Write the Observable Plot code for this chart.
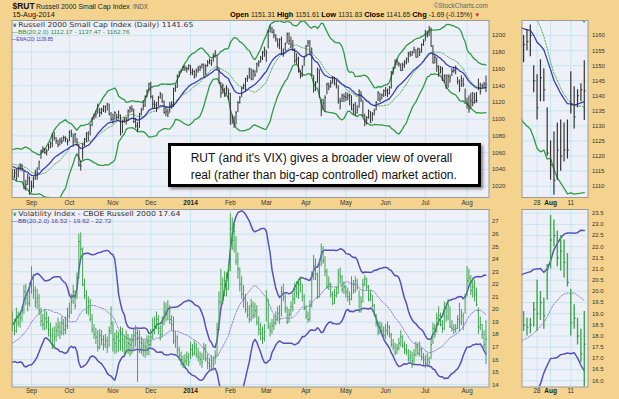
<!DOCTYPE html>
<html><head><meta charset="utf-8">
<script src="https://cdn.jsdelivr.net/npm/d3@7"></script>
<script src="https://cdn.jsdelivr.net/npm/@observablehq/plot@0.6"></script>
<style>
body{margin:0;background:#fff;}
#chart{position:relative;width:619px;height:399px;background:#f4d38f;overflow:hidden;}
#chart svg{position:absolute;left:0;top:0;}
</style></head><body><div id="chart"></div>
<script>
// ---------- DATA (trading days 19-Aug-2013 .. 15-Aug-2014) ----------
const monthLabels = ["Sep","Oct","Nov","Dec","2014","Feb","Mar","Apr","May","Jun","Jul","Aug"];
const tradingDaysPerMonth = [10,20,23,20,21,21,19,21,21,21,21,22,11]; // Aug-2013 .. Aug-2014
const zoomTickLabels = ["28","Aug","11"];
const zoomTickIdx = [236,240,246];
const zoomStart = 232;

const rutWarm = [1038,1042,1040,1046,1050,1045,1047,1044,1055,1060,1058,1050,1044,1050,1054,1056,1053,1046,1030,1028];
const rutClose = [
1031,1036,1029,1040,1044,1040,1017,1022,1030,1011,
1020,1029,1036,1036,1049,1062,1065,1060,1062,1066,1071,1080,1078,1074,1070,1074,1073,1078,1077,1073,
1085,1083,1073,1082,1070,1045,1044,1070,1076,1083,1075,1093,1100,1104,1106,1116,1108,1111,1115,1110,1118,1106,1100,
1100,1108,1102,1104,1082,1098,1101,1099,1110,1113,1112,1097,1092,1088,1106,1111,1116,1127,1133,1142,
1127,1118,1117,1113,1126,1130,1121,1108,1109,1107,1116,1118,1136,1138,1151,1155,1158,1162,1161,1160,1164,
1156,1157,1150,1158,1160,1162,1165,1151,1164,1168,1170,1167,1175,1179,1162,1143,1131,1140,1128,1137,1131,
1094,1102,1093,1108,1120,1126,1137,1140,1148,1149,1160,1148,1157,1153,1166,1168,1173,1180,1183,
1179,1205,1208,1204,1200,1196,1189,1195,1178,1180,1190,1202,1194,1190,1183,1170,1172,1157,1152,1162,1173,
1187,1192,1180,1153,1135,1143,1160,1126,1111,1119,1126,1142,1139,1143,1150,1142,1141,1122,1121,1128,1127,
1126,1128,1129,1112,1117,1108,1111,1134,1123,1104,1099,1102,1110,1096,1106,1110,1120,1132,1124,1129,1134,
1134,1131,1138,1156,1160,1169,1169,1166,1158,1165,1168,1172,1178,1177,1180,1183,1174,1184,1180,1189,1193,
1204,1199,1208,1187,1167,1174,1163,1155,1160,1147,1152,1137,1151,1150,1157,1158,1160,1145,1136,1146,1142,1121,
1117,1112,1122,1120,1122,1122,1137,1133,1140,1142,1141.65];
const rutHigh = [
1040,1040,1040,1043,1047,1046,1038,1027,1034,1031,
1026,1031,1039,1042,1050,1063,1067,1065,1064,1070,1073,1082,1084,1078,1075,1077,1078,1080,1079,1076,
1086,1087,1082,1083,1077,1070,1050,1071,1077,1084,1085,1094,1102,1106,1110,1118,1113,1113,1116,1116,1119,1118,1108,
1106,1109,1106,1110,1105,1099,1102,1102,1111,1115,1116,1112,1101,1096,1107,1113,1122,1128,1135,1143,
1144,1128,1122,1120,1127,1132,1130,1122,1114,1112,1120,1121,1137,1141,1153,1157,1159,1163,1164,1162,1165,
1164,1160,1158,1160,1163,1164,1166,1166,1165,1170,1172,1171,1178,1182,1176,1161,1144,1142,1137,1140,1136,
1131,1105,1103,1109,1121,1127,1138,1142,1149,1152,1161,1160,1159,1158,1167,1170,1175,1181,1186,
1182,1206,1212,1210,1207,1201,1196,1196,1198,1184,1191,1203,1203,1198,1194,1184,1178,1174,1158,1164,1175,
1188,1194,1194,1185,1152,1145,1161,1159,1124,1124,1128,1143,1143,1146,1151,1150,1146,1140,1125,1130,1130,
1132,1131,1130,1128,1118,1120,1116,1135,1133,1122,1106,1103,1111,1109,1108,1112,1121,1133,1131,1130,1135,
1138,1136,1139,1157,1162,1171,1172,1168,1166,1167,1170,1173,1180,1181,1181,1186,1183,1185,1184,1190,1195,
1206,1205,1211,1209,1188,1176,1173,1164,1163,1162,1153,1153,1153,1153,1160,1162,1163.5,1150,1147,1152,1149,1136,
1125,1128,1131,1132,1131,1132,1148,1143,1142,1144,1151.61];
const rutLow = [
1027,1029,1026,1030,1038,1037,1016,1014,1021,1009,
1012,1017,1027,1027,1039,1052,1059,1058,1056,1062,1065,1066,1074,1070,1066,1068,1070,1073,1072,1068,
1073,1078,1067,1072,1068,1043,1038,1051,1067,1072,1074,1080,1091,1099,1101,1106,1102,1105,1108,1107,1110,1104,1097,
1094,1099,1098,1100,1080,1083,1095,1093,1097,1107,1108,1095,1089,1084,1089,1104,1110,1114,1126,1133,
1124,1112,1112,1108,1115,1124,1119,1106,1103,1102,1107,1112,1114,1132,1137,1150,1155,1157,1157,1155,1158,
1152,1152,1148,1150,1155,1157,1160,1150,1152,1162,1165,1163,1168,1173,1158,1142,1125,1130,1126,1129,1122,
1093,1094,1089,1093,1108,1118,1126,1135,1133,1144,1148,1146,1146,1150,1155,1162,1167,1170,1174,
1168,1184,1203,1202,1196,1192,1185,1183,1176,1174,1181,1190,1188,1184,1181,1166,1165,1155,1148,1150,1163,
1174,1186,1177,1151,1131,1133,1143,1125,1103,1111,1108,1129,1134,1137,1142,1140,1136,1118,1111,1120,1120,
1121,1122,1116,1110,1105,1103,1106,1113,1120,1103,1091,1093,1100,1095,1097,1104,1110,1121,1120,1123,1126,
1127,1126,1129,1136,1153,1160,1164,1162,1157,1157,1161,1165,1167,1174,1175,1178,1173,1173,1175,1179,1187,
1193,1197,1199,1186,1166,1166,1156,1150,1154,1145,1143,1136,1137,1143,1151,1155,1153,1141,1132,1138,1138,1120,
1112,1107,1112,1115,1118,1119,1134,1129,1136,1138,1131.83];

const rvxWarm = [16.8,16.5,16.9,17.2,16.7,17.0,17.3,17.6,16.9,16.5,16.8,17.1,17.5,17.2,16.9,16.8,17.0,17.4,18.9,19.3];
const rvxClose = [
18.8,18.3,19.4,18.9,19.3,19.9,21.4,20.9,20.5,21.8,
22.4,21.5,20.6,20.9,19.9,19.1,18.8,19.3,19.0,18.4,17.9,17.2,17.8,18.3,18.6,18.2,18.9,18.4,18.7,19.5,
19.8,20.6,21.4,20.3,22.5,25.4,24.8,22.0,21.1,19.8,20.6,19.2,18.4,18.0,17.8,17.0,17.9,17.6,17.2,17.5,17.0,18.3,18.9,
17.6,17.3,17.8,17.5,18.0,17.6,17.4,17.7,17.3,17.2,17.5,17.9,18.1,17.8,17.4,17.3,17.1,17.0,17.4,17.2,
17.8,18.4,18.6,19.2,18.5,18.0,18.9,19.8,19.6,20.1,19.2,18.8,17.5,17.8,16.8,16.3,16.0,15.7,15.9,16.2,15.8,
16.8,16.5,17.0,16.4,16.2,16.0,15.8,16.9,16.1,15.7,15.5,15.9,15.6,16.3,18.4,20.6,22.0,20.8,22.3,21.6,23.1,
26.4,25.5,26.2,23.8,23.2,22.0,21.2,20.8,20.0,19.6,19.2,20.3,19.5,19.9,19.0,18.4,18.1,17.7,18.2,
20.9,18.6,18.3,18.7,18.9,19.2,19.7,19.3,21.4,21.0,20.1,19.0,19.6,20.2,20.8,21.6,21.3,22.0,22.1,21.0,20.1,
19.5,19.2,20.3,22.6,23.5,22.8,21.0,23.6,24.6,23.9,23.0,21.8,22.0,21.2,20.5,21.1,21.3,22.8,22.6,21.6,21.8,
21.4,21.0,20.8,22.0,21.5,22.3,21.7,19.9,20.6,22.0,22.4,21.8,20.8,21.2,20.3,19.6,18.9,18.2,18.6,18.3,17.9,
18.3,18.6,18.0,17.2,17.0,16.6,16.9,17.3,17.8,17.1,16.8,16.6,16.1,16.3,15.9,16.4,17.0,16.5,16.8,16.2,16.0,
15.7,16.0,15.8,17.2,18.5,18.0,19.3,19.5,18.8,18.5,20.1,19.4,20.3,18.6,18.5,18.4,18.5,19.2,19.0,19.5,18.9,21.0,
22.3,22.5,21.5,21.8,21.3,20.4,18.6,18.8,18.0,17.2,17.64];
const rvxHigh = [
19.8,19.2,20.1,19.8,19.7,20.2,21.9,22.0,21.2,22.1,
23.4,22.8,21.8,21.6,21.2,20.1,19.6,20.0,19.8,19.4,18.9,18.5,18.6,18.9,19.3,19.0,19.4,19.2,19.4,20.1,
20.5,21.2,21.9,21.5,22.9,26.0,26.1,24.9,22.4,21.5,21.0,20.8,19.6,18.8,18.5,18.3,18.4,18.3,17.9,18.0,17.8,18.6,20.2,
19.0,18.1,18.3,18.2,18.6,18.5,17.9,18.3,18.0,17.7,18.0,18.5,18.7,18.4,18.3,17.8,17.6,17.5,17.9,17.9,
18.4,19.3,19.4,19.8,19.5,18.7,19.4,20.6,20.5,20.7,20.3,19.5,19.4,18.2,17.9,17.0,16.6,16.3,16.4,16.6,16.5,
17.4,17.2,17.5,17.3,16.9,16.6,16.5,17.3,17.2,16.4,16.1,16.3,16.2,16.7,18.9,21.4,23.2,22.5,23.0,22.9,23.6,
27.6,27.3,26.8,25.8,24.5,23.3,22.6,21.9,21.2,20.6,20.3,20.8,20.6,20.5,20.3,19.4,18.9,18.6,18.8,
21.5,20.8,18.9,19.2,19.5,19.8,20.2,20.3,21.8,22.0,21.2,20.2,20.0,20.6,21.3,22.1,22.2,22.4,22.6,22.0,21.2,
20.3,19.8,20.7,23.0,24.3,24.0,22.9,23.9,25.2,25.0,24.2,23.2,22.6,22.1,21.4,21.6,21.8,23.2,23.3,22.7,22.2,
21.9,21.7,21.4,22.6,22.3,22.6,22.4,21.5,21.0,22.4,22.7,22.5,21.9,21.5,21.1,20.4,19.6,19.0,19.0,18.9,18.6,
18.8,19.0,18.7,18.1,17.6,17.3,17.2,17.7,18.3,17.9,17.4,17.2,16.8,16.7,16.6,16.8,17.4,17.3,17.4,16.9,16.5,
16.3,16.5,16.2,17.6,18.9,18.8,19.7,20.2,19.7,19.1,20.6,20.5,20.8,20.2,19.1,18.8,18.8,19.5,20.5,20.0,19.7,21.2,
23.4,23.2,22.7,22.5,22.3,21.7,20.1,19.4,18.8,18.3,19.1];
const rvxLow = [
18.2,17.9,18.1,18.6,18.5,19.0,19.6,20.3,19.8,20.2,
21.2,20.8,20.1,20.0,19.5,18.6,18.3,18.3,18.4,17.8,17.3,16.8,16.9,17.4,17.8,17.6,17.9,17.9,18.0,18.4,
19.2,19.6,20.4,20.0,20.8,22.4,24.0,21.8,20.8,19.6,19.5,19.0,18.1,17.6,17.2,16.6,16.8,17.1,16.7,16.9,16.5,17.0,18.0,
16.6,16.4,16.5,16.6,16.7,16.6,16.3,16.5,16.4,16.2,16.4,16.8,17.0,14.2,16.5,16.4,16.2,16.1,16.3,16.3,
17.0,17.6,18.0,18.4,18.0,17.5,17.8,18.7,19.0,19.1,18.8,18.3,17.2,16.9,16.4,15.9,15.5,15.3,15.4,15.5,15.4,
16.0,16.2,16.3,16.1,15.8,15.5,15.3,15.9,15.8,15.2,15.0,15.2,15.1,15.6,16.2,18.3,20.3,20.4,21.0,21.0,21.5,
23.0,24.7,24.5,23.5,22.4,21.4,20.8,20.1,19.7,19.3,18.9,19.0,19.2,19.3,18.7,17.9,17.5,17.2,17.4,
19.0,18.4,17.8,18.0,18.3,18.7,19.0,18.8,19.4,20.6,19.7,18.8,18.9,19.4,19.8,20.4,20.9,20.8,21.3,20.6,19.9,
19.2,18.9,19.0,20.1,22.3,22.3,20.8,20.9,23.4,23.6,22.6,21.6,21.5,20.9,20.3,20.4,20.9,21.2,22.0,21.3,21.2,
20.9,20.6,20.3,20.7,21.2,21.3,21.5,19.7,19.7,20.5,21.8,21.5,20.6,20.6,20.1,19.4,18.6,17.9,18.0,17.9,17.5,
17.6,17.9,17.7,17.0,16.7,16.3,16.4,16.7,17.0,16.9,16.4,16.3,15.8,15.8,15.3,15.6,16.2,16.3,16.2,15.9,15.5,
15.3,15.4,15.4,16.0,17.2,17.7,18.1,18.7,18.6,18.1,18.3,19.0,19.1,18.5,18.2,18.0,18.1,18.4,18.2,18.7,18.3,19.6,
21.0,22.0,21.1,20.9,20.6,20.2,18.0,18.3,17.6,16.8,15.6];

const rutTicks = [1020,1040,1060,1080,1100,1120,1140,1160,1180,1200];
const rutZoomTicks = [1110,1115,1120,1125,1130,1135,1140,1145,1150,1155,1160];
const rvxTicks = [14,15,16,17,18,19,20,21,22,23,24,25,26,27];
const rvxZoomTicks = [16,16.5,17,17.5,18,18.5,19,19.5,20,20.5,21,21.5,22,22.5,23,23.5];

// ---------- indicators: BB(20,2.0) and EMA(20) derived from closes ----------
function indicators(warm, close) {
  const all = warm.concat(close), n = 20, k = 2 / (n + 1);
  let ema = all[0];
  const out = [];
  for (let j = 0; j < all.length; j++) {
    ema = j === 0 ? all[0] : all[j] * k + ema * (1 - k);
    if (j >= warm.length) {
      const win = all.slice(j - n + 1, j + 1);
      const m = d3.mean(win);
      const sd = Math.sqrt(d3.mean(win, v => (v - m) ** 2));
      out.push({mid: m, up: m + 2 * sd, dn: m - 2 * sd, ema});
    }
  }
  return out;
}
const rutInd = indicators(rutWarm, rutClose);
const rvxInd = indicators(rvxWarm, rvxClose);
const rut = rutClose.map((c, i) => ({i, close: c, high: rutHigh[i], low: rutLow[i], ...rutInd[i]}));
const rvx = rvxClose.map((c, i) => ({i, close: c, high: rvxHigh[i], low: rvxLow[i], ...rvxInd[i]}));

const starts = d3.cumsum(tradingDaysPerMonth);
const monthTicks = monthLabels.map((label, j) => ({i: starts[j], label}));
const zoomTicks = zoomTickLabels.map((label, j) => ({i: zoomTickIdx[j], label}));

// ---------- panels ----------
const W = 619, H = 399;
const FONT = "Liberation Sans, Arial, sans-serif";
const gridC = "#bde2ee", plotBg = "#eef0f7", frameC = "#9a9a9a";
const rvxBar = "#41a552", rvxTick = "#2a8040";

function panel(o) {
  const marks = [
    Plot.frame({fill: plotBg, stroke: null}),
    Plot.ruleY(o.yTicks, {stroke: gridC, strokeWidth: 0.8}),
    Plot.ruleX(o.xTicks.map(d => d.i), {stroke: gridC, strokeWidth: 0.8}),
    ...o.marks,
    Plot.frame({stroke: frameC, strokeWidth: 1}),
    Plot.text(o.yTicks, {y: d => d, frameAnchor: "right", textAnchor: "start", dx: o.ydx, text: o.yFmt, fontSize: 6, fill: "#333"}),
    Plot.text(o.xTicks.filter(d => !o.bold.includes(d.label)), {x: "i", frameAnchor: "bottom", dy: o.xdy, text: "label", fontSize: 6.3, fill: "#333"}),
    Plot.text(o.xTicks.filter(d => o.bold.includes(d.label)), {x: "i", frameAnchor: "bottom", dy: o.xdy, text: "label", fontSize: 6.5, fontWeight: "bold", fill: "#222"})
  ];
  return Plot.plot({
    width: W, height: H,
    marginLeft: o.x0, marginRight: W - o.x1, marginTop: o.y0, marginBottom: H - o.y1,
    x: {domain: o.xDomain, axis: null},
    y: {domain: o.yDomain, axis: null},
    style: {background: "transparent", fontFamily: FONT, overflow: "visible"},
    marks
  });
}

function rutLines(data) {
  return [
    Plot.line(data, {x: "i", y: "up", stroke: "#2f9a45", strokeWidth: 1.3, clip: true}),
    Plot.line(data, {x: "i", y: "dn", stroke: "#2f9a45", strokeWidth: 1.3, clip: true}),
    Plot.line(data, {x: "i", y: "mid", stroke: "#52b060", strokeWidth: 1, strokeDasharray: "1.5,1.5", clip: true}),
    Plot.line(data, {x: "i", y: "ema", stroke: "#3d3db8", strokeWidth: 1.3, clip: true})
  ];
}
function rutBars(data, tick, w) {
  return [
    Plot.ruleX(data, {x: "i", y1: "low", y2: "high", stroke: "#333", strokeWidth: w, clip: true}),
    Plot.link(data, {x1: "i", x2: d => d.i + tick, y1: "close", y2: "close", stroke: "#333", strokeWidth: 1, clip: true})
  ];
}
function rvxLines(data) {
  return [
    Plot.line(data, {x: "i", y: "up", stroke: "#5a50b8", strokeWidth: 1.5, clip: true}),
    Plot.line(data, {x: "i", y: "dn", stroke: "#5a50b8", strokeWidth: 1.5, clip: true}),
    Plot.line(data, {x: "i", y: "mid", stroke: "#8a7fd2", strokeWidth: 1, strokeDasharray: "1.5,1.5", clip: true})
  ];
}
function rvxBars(data, tick, w) {
  return [
    Plot.ruleX(data, {x: "i", y1: "low", y2: "high", stroke: rvxBar, strokeWidth: w, clip: true}),
    Plot.link(data, {x1: "i", x2: d => d.i + tick, y1: "close", y2: "close", stroke: rvxTick, strokeWidth: 1, clip: true})
  ];
}

const mainX = [-0.3, 251.6], zoomX = [231.53, 251.1];
const zoomRut = rut.filter(d => d.i >= zoomStart - 1);
const zoomRvx = rvx.filter(d => d.i >= zoomStart - 1);
const zoomRutBars = rut.filter(d => d.i >= zoomStart);
const zoomRvxBars = rvx.filter(d => d.i >= zoomStart);

const charts = [
  panel({x0: 11.5, x1: 488.5, y0: 20, y1: 197, xDomain: mainX, yDomain: [1006.5, 1217.9],
    yTicks: rutTicks, yFmt: d => String(d), ydx: 3, xTicks: monthTicks, xdy: 7, bold: ["2014"],
    marks: [...rutLines(rut), ...rutBars(rut, 0.5, 1)]}),
  panel({x0: 521.5, x1: 587.5, y0: 20, y1: 197, xDomain: zoomX, yDomain: [1106.25, 1165],
    yTicks: rutZoomTicks, yFmt: d => String(d), ydx: 4, xTicks: zoomTicks, xdy: 7, bold: ["Aug"],
    marks: [...rutLines(zoomRut), ...rutBars(zoomRutBars, 0.45, 1.2)]}),
  panel({x0: 11.5, x1: 488.5, y0: 209, y1: 386.5, xDomain: mainX, yDomain: [13.82, 27.96],
    yTicks: rvxTicks, yFmt: d => String(d), ydx: 3, xTicks: monthTicks, xdy: 5.5, bold: ["2014"],
    marks: [...rvxLines(rvx), ...rvxBars(rvx, 0.5, 1)]}),
  panel({x0: 521.5, x1: 587.5, y0: 209, y1: 386.5, xDomain: zoomX, yDomain: [15.72, 23.665],
    yTicks: rvxZoomTicks, yFmt: d => d.toFixed(1), ydx: 4, xTicks: zoomTicks, xdy: 5.5, bold: ["Aug"],
    marks: [...rvxLines(zoomRvx), ...rvxBars(zoomRvxBars, 0.45, 1.4)]})
];
const root = document.getElementById("chart");
charts.forEach(c => root.appendChild(c));

// ---------- texts overlay ----------
const svg = d3.select(root).append("svg").attr("width", W).attr("height", H)
  .style("font-family", FONT);
const defs = svg.append("defs");
defs.append("filter").attr("id", "sh").attr("x", "-10%").attr("y", "-20%").attr("width", "130%").attr("height", "150%")
  .append("feDropShadow").attr("dx", 2).attr("dy", 2).attr("stdDeviation", 1.5).attr("flood-color", "#000").attr("flood-opacity", 0.45);

function txt(x, y, s, size, opts = {}) {
  const t = svg.append("text").attr("x", x).attr("y", y).attr("font-size", size)
    .attr("fill", opts.fill || "#222").text(s);
  if (opts.weight) t.attr("font-weight", opts.weight);
  if (opts.anchor) t.attr("text-anchor", opts.anchor);
  if (opts.family) t.attr("font-family", opts.family);
  if (opts.len) t.attr("textLength", opts.len).attr("lengthAdjust", "spacingAndGlyphs");
  return t;
}
txt(12.5, 8.8, "$RUT", 8.5, {weight: "bold", fill: "#111"});
txt(36, 8.8, "Russell 2000 Small Cap Index", 7, {fill: "#222"});
txt(133, 8.8, "INDX", 6.3, {fill: "#555"});
txt(12.5, 17.4, "15-Aug-2014", 7.3, {fill: "#111"});
txt(488, 7.8, "©StockCharts.com", 6.5, {fill: "#666", anchor: "end"});

const ohlc = svg.append("text").attr("x", 230).attr("y", 17.4).attr("font-size", 7).attr("fill", "#111");
[["Open ", true], ["1151.31  ", false], ["High ", true], ["1151.61  ", false], ["Low ", true], ["1131.83  ", false],
 ["Close ", true], ["1141.65  ", false], ["Chg ", true], ["-1.69 (-0.15%)", false]].forEach(([s, b]) => {
  ohlc.append("tspan").attr("font-weight", b ? "bold" : "normal").attr("font-size", b ? 7.4 : 6.8)
    .attr("fill", b ? "#000" : "#222").text(s);
});
ohlc.append("tspan").attr("fill", "#d62020").attr("font-size", 6).attr("dx", 2).text("▼");

const DJ = "DejaVu Sans, Verdana, sans-serif";
txt(12.2, 27.4, "∨", 6, {fill: "#555", weight: "bold", family: DJ});
txt(18.3, 27.4, "Russell 2000 Small Cap Index (Daily) 1141.65", 6.8, {fill: "#333", family: DJ, len: 175});
txt(11.5, 34.1, "—BB(20,2.0) 1112.17 - 1137.47 - 1162.76", 5.6, {fill: "#2e8b3e", len: 118});
txt(11.5, 40.6, "—EMA(20) 1139.85", 5.6, {fill: "#3636b0", len: 41.5});
txt(12.2, 216.4, "∨", 6, {fill: "#2f9a4c", weight: "bold", family: DJ});
txt(18.3, 216.4, "Volatility Index - CBOE Russell 2000 17.64", 6.8, {fill: "#333", family: DJ, len: 162});
txt(11.5, 223.3, "—BB(20,2.0) 16.52 - 19.62 - 22.72", 5.6, {fill: "#4a3fa8", len: 100});

// annotation box
svg.append("rect").attr("x", 169.5).attr("y", 144.5).attr("width", 310).attr("height", 41)
  .attr("fill", "#fff").attr("stroke", "#000").attr("stroke-width", 3).attr("filter", "url(#sh)");
txt(190.7, 162.3, "RUT (and it's VIX) gives a broader view of overall", 12, {fill: "#111"});
txt(190.7, 178.5, "real (rather than big-cap controlled) market action.", 12, {fill: "#111"});
</script></body></html>
